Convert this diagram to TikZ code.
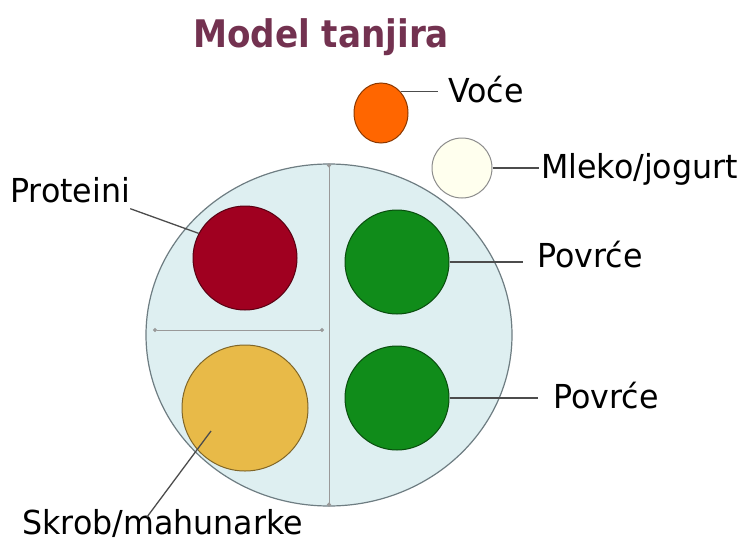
\documentclass[tikz,border=0pt]{standalone}
\usepackage{fontspec}
\setmainfont{DejaVu Sans}
\usepackage{xcolor}
\usetikzlibrary{arrows.meta,shapes.geometric}
\definecolor{naslov}{RGB}{115,50,80}
\definecolor{tanjir}{RGB}{222,239,241}
\definecolor{tanjirrub}{RGB}{110,125,130}
\definecolor{meso}{RGB}{160,0,32}
\definecolor{skrob}{RGB}{232,186,72}
\definecolor{povrce}{RGB}{16,140,26}
\definecolor{voce}{RGB}{255,102,0}
\definecolor{mleko}{RGB}{255,255,238}
\tikzset{
  hrana/.style={circle, draw=#1!55!black, fill=#1, inner sep=0pt, line width=1pt},
  oznaka/.style={font=\fontsize{33}{40}\selectfont, xscale=0.96, inner sep=0pt, anchor=base west},
  veza/.style={draw=black!70, line width=1.3pt},
  mera/.style={draw=black!40, line width=1pt, {Circle[length=4pt]}-{Circle[length=4pt]}}
}

\begin{document}
\begin{tikzpicture}[x=1pt,y=-1pt]
    \useasboundingbox (0,0) rectangle (749,541);
    \node[font=\bfseries\fontsize{38}{46}\selectfont, text=naslov, xscale=0.9, anchor=base] (naslov) at (321,47) {Model tanjira};
    % tanjir
    \node[ellipse, draw=tanjirrub, fill=tanjir, line width=1.2pt,
          minimum width=366pt, minimum height=342pt] (tanjir) at (329,335) {};
    \draw[mera] (tanjir.north) -- (tanjir.south);
    \coordinate (lijevo) at (153,330);
    \coordinate (desno) at (324,330);
    \draw[mera] (lijevo) -- (desno);
    % hrana
    \node[hrana=meso, minimum size=104pt] (meso) at (245,258) {};
    \node[hrana=skrob, minimum size=126pt] (skrob) at (245,408) {};
    \node[hrana=povrce, minimum size=104pt] (povrce1) at (397,262) {};
    \node[hrana=povrce, minimum size=104pt] (povrce2) at (397,398) {};
    \node[hrana=voce, minimum width=54pt, minimum height=60pt, ellipse] (voce) at (381,113) {};
    \node[hrana=mleko, draw=black!45, minimum size=60pt] (mleko) at (462,168) {};
    % oznake
    \node[oznaka] (lvoce) at (448,102) {Voće};
    \node[oznaka] (lmleko) at (541,178) {Mleko/jogurt};
    \node[oznaka] (lmeso) at (10,202) {Proteini};
    \node[oznaka] (lpovrce1) at (537,267) {Povrće};
    \node[oznaka] (lpovrce2) at (553,408) {Povrće};
    \node[oznaka] (lskrob) at (22,534) {Skrob/mahunarke};
    \coordinate (kskrob) at (147,517);
    \coordinate (vrhskrob) at (211,431);
    % veze
    \draw[veza, shorten >=10pt] (voce.47) -- (voce.47 -| lvoce.west);
    \draw[veza, shorten >=2pt] (mleko.east) -- (mleko.east -| lmleko.west);
    \draw[veza, shorten >=14pt] (povrce1.east) -- (povrce1.east -| lpovrce1.west);
    \draw[veza, shorten >=15pt] (povrce2.east) -- (povrce2.east -| lpovrce2.west);
    \draw[veza] ([yshift=-6pt]lmeso.south east) -- (meso.152);
    \draw[veza] (kskrob) -- (vrhskrob);
\end{tikzpicture}
\end{document}
